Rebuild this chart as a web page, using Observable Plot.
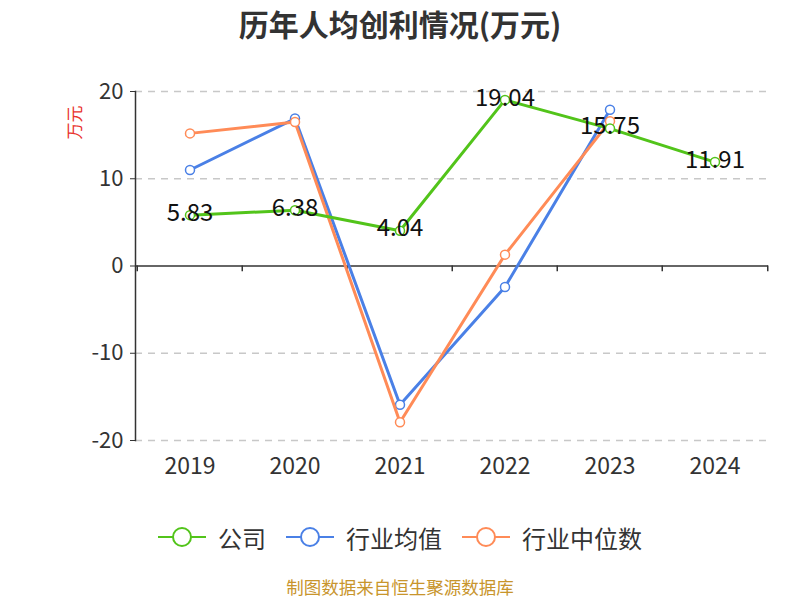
<!DOCTYPE html>
<html>
<head>
<meta charset="utf-8">
<script src="https://cdn.jsdelivr.net/npm/d3@7"></script>
<script src="https://cdn.jsdelivr.net/npm/@observablehq/plot@0.6"></script>
<style>
  body { margin: 0; background: #fff; font-family: "Noto Sans CJK SC", "Noto Sans", sans-serif; overflow: hidden; }
  #wrap { position: relative; width: 800px; height: 600px; }
  #title { position: absolute; top: 0; left: 0; width: 800px; height: 46px; line-height: 46px; text-align: center; font-size: 30px; font-weight: bold; color: #333; }
  #chart { position: absolute; top: 48px; left: 0; }
  #legend { position: absolute; top: 517px; left: 0; width: 800px; height: 40px; display: flex; justify-content: center; align-items: center; gap: 0; font-size: 24px; color: #333; }
  .item { display: flex; align-items: center; margin: 0 10px; }
  .item svg { margin-right: 12px; }
  #caption { position: absolute; top: 574px; left: 0; width: 800px; height: 26px; line-height: 26px; text-align: center; font-size: 17.5px; color: #c8952c; }
  #ylab { position: absolute; left: 56px; top: 110px; font-size: 17px; color: #e8332e; transform: rotate(-90deg); transform-origin: center; }
</style>
</head>
<body>
<div id="wrap">
  <div id="title">历年人均创利情况(万元)</div>
  <div id="chart"></div>
  <div id="ylab">万元</div>
  <div id="legend"></div>
  <div id="caption">制图数据来自恒生聚源数据库</div>
</div>
<script>
const years = ["2019", "2020", "2021", "2022", "2023", "2024"];
const company = [5.83, 6.38, 4.04, 19.04, 15.75, 11.91];
const industryMean = [11.0, 16.9, -15.9, -2.4, 17.9, null];
const industryMedian = [15.2, 16.5, -17.9, 1.3, 16.6, null];
const yTicks = [-20, -10, 0, 10, 20];
const seriesNames = ["公司", "行业均值", "行业中位数"];
const colors = ["#52c41a", "#4a80e6", "#ff8b57"];

const toRows = (vals) => years.map((y, i) => ({ year: y, value: vals[i] })).filter(d => d.value != null);
const rows = [toRows(company), toRows(industryMean), toRows(industryMedian)];

const W = 800, H = 452;
const mL = 135, mR = 32, mT = 43, mB = 60;
const bw = (W - mL - mR) / years.length;

const boundary = years.map((y, i) => ({ year: y, dx: -bw / 2 }));
boundary.push({ year: years[years.length - 1], dx: bw / 2 });

const font = "Noto Sans CJK SC";
const marks = [
  Plot.gridY(yTicks.filter(t => t !== 0), { stroke: "#c8c8c8", strokeOpacity: 1, strokeDasharray: "7,6", strokeWidth: 1.5 }),
  Plot.axisY({ ticks: yTicks, tickFormat: d => String(d), tickSize: 5, tickPadding: 7, fontSize: 22, fill: "#333", stroke: "#333", label: null, fontFamily: font }),
  Plot.frame({ anchor: "left", stroke: "#333", strokeWidth: 1.5 }),
  Plot.axisX({ tickSize: 0, tickPadding: 17, fontSize: 23, fill: "#333", label: null, fontFamily: font }),
  Plot.ruleY([0], { stroke: "#333", strokeWidth: 1.5 }),
  ...boundary.map(b => Plot.ruleX([b], { x: "year", y1: 0, y2: -0.65, dx: b.dx, stroke: "#333", strokeWidth: 1.5 }))
];
[1, 2, 0].forEach(k => {
  marks.push(Plot.line(rows[k], { x: "year", y: "value", stroke: colors[k], strokeWidth: 3 }));
  marks.push(Plot.dot(rows[k], { x: "year", y: "value", r: 4.5, fill: "#fff", stroke: colors[k], strokeWidth: 1.5 }));
});
marks.push(Plot.text(rows[0], { x: "year", y: "value", text: d => d.value.toFixed(2), fontSize: 24, fill: "#111", dy: -2, fontFamily: font }));

const chart = Plot.plot({
  width: W, height: H,
  marginLeft: mL, marginRight: mR, marginTop: mT, marginBottom: mB,
  x: { type: "band", domain: years, padding: 0, axis: null },
  y: { domain: [-20, 20], axis: null },
  style: { fontFamily: font, background: "transparent", overflow: "visible" },
  marks
});
document.getElementById("chart").appendChild(chart);

const legend = document.getElementById("legend");
seriesNames.forEach((name, i) => {
  const item = document.createElement("div");
  item.className = "item";
  item.innerHTML = `<svg width="48" height="24"><line x1="0" y1="12" x2="48" y2="12" stroke="${colors[i]}" stroke-width="2"/><circle cx="24" cy="12" r="9" fill="#fff" stroke="${colors[i]}" stroke-width="2"/></svg><span>${name}</span>`;
  legend.appendChild(item);
});
</script>
</body>
</html>
